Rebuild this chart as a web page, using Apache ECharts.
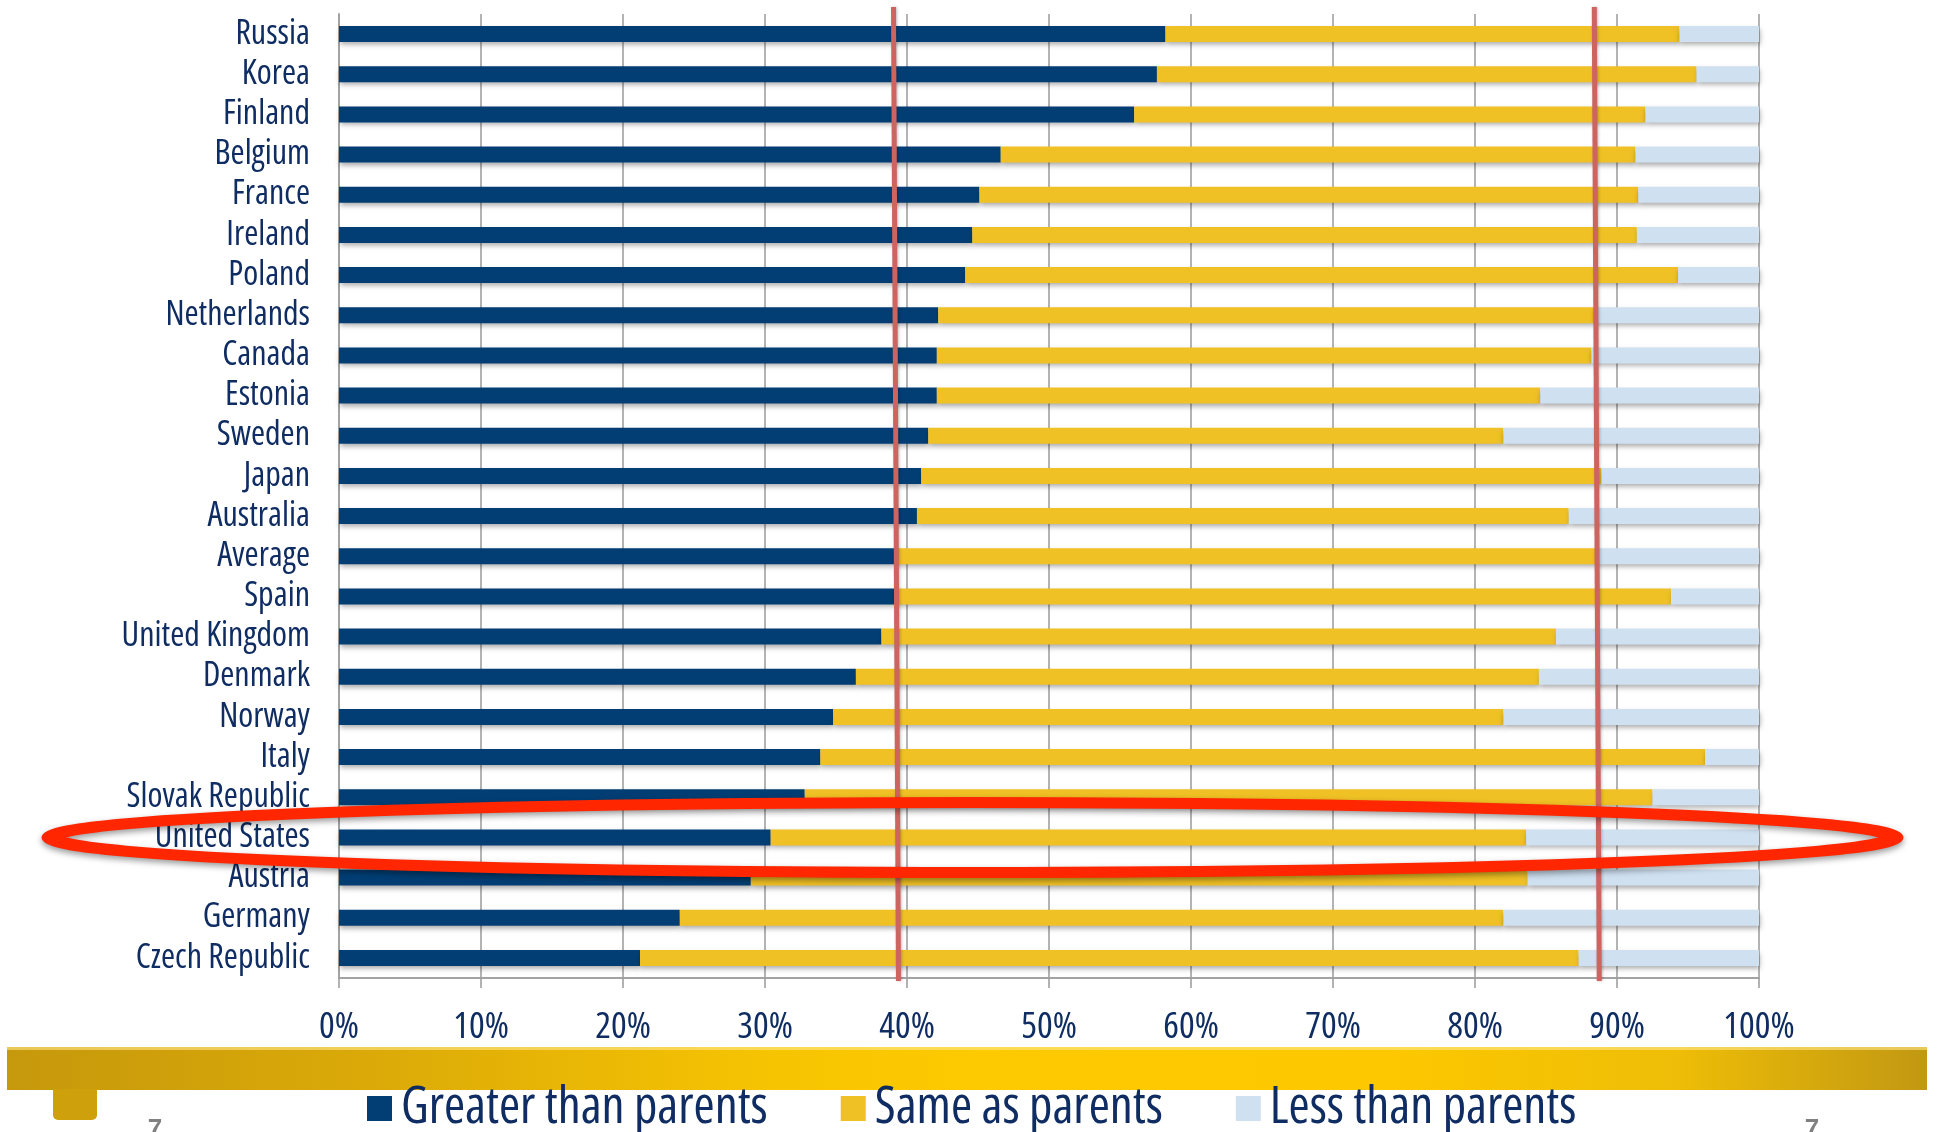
<!DOCTYPE html>
<html><head><meta charset="utf-8">
<script src="https://cdn.jsdelivr.net/npm/echarts@6/dist/echarts.min.js"></script>
<style>html,body{margin:0;padding:0;background:#fff}#c{width:1937px;height:1132px}</style>
</head><body><div id="c"></div>
<script>
const categories = ['Russia','Korea','Finland','Belgium','France','Ireland','Poland','Netherlands','Canada','Estonia','Sweden','Japan','Australia','Average','Spain','United Kingdom','Denmark','Norway','Italy','Slovak Republic','United States','Austria','Germany','Czech Republic'];
const greaterThanParents = [58.2,57.6,56.0,46.6,45.1,44.6,44.1,42.2,42.1,42.1,41.5,41.0,40.7,39.1,39.1,38.2,36.4,34.8,33.9,32.8,30.4,29.0,24.0,21.2];
const sameAsParents      = [36.2,38.0,36.0,44.7,46.4,46.8,50.2,46.2,46.1,42.5,40.5,47.9,45.9,49.5,54.7,47.5,48.1,47.2,62.3,59.7,53.2,54.7,58.0,66.1];
const lessThanParents    = [5.6,4.4,8.0,8.7,8.5,8.6,5.7,11.6,11.8,15.4,18.0,11.1,13.4,11.4,6.2,14.3,15.5,18.0,3.8,7.5,16.4,16.3,18.0,12.7];
const seriesNames = ['Greater than parents','Same as parents','Less than parents'];
const xMin = 0, xMax = 100, xStep = 10;
// hand-drawn average marker lines (value at top, value at bottom)
const averageMarkers = [[39.05,39.4],[88.4,88.75]];
const highlighted = 'United States';
const pageNumber = '7';

const FONT = "'Open Sans','Liberation Sans',sans-serif";
const STRETCH = 'condensed';
const NAVY = '#0f2d62';
const colors = ['#023e74','#f0c125','#cfe0f1'];
const seriesData = [greaterThanParents, sameAsParents, lessThanParents];

const chart = echarts.init(document.getElementById('c'), null, {renderer:'canvas'});
const option = {
  animation:false,
  grid:{left:339,right:178,top:14,bottom:154},
  xAxis:{type:'value',min:xMin,max:xMax,interval:xStep,
    axisLabel:{formatter:'{value}%',fontFamily:FONT,fontWeight:STRETCH,fontSize:37,color:NAVY,margin:31},
    axisLine:{show:true,lineStyle:{color:'#a3a3a3',width:2}},
    axisTick:{show:true,length:10,lineStyle:{color:'#999',width:1.5}},
    splitLine:{show:true,lineStyle:{color:'#9a9a9a',width:1.5}}},
  yAxis:{type:'category',data:categories,inverse:true,
    axisLabel:{interval:0,fontFamily:FONT,fontWeight:STRETCH,fontSize:34,color:NAVY,margin:29,padding:[5,0,0,0]},
    axisLine:{lineStyle:{color:'#a3a3a3',width:2}},
    axisTick:{interval:0,length:10,lineStyle:{color:'#999',width:1.5}}},
  legend:{left:362,top:1078,itemWidth:25,itemHeight:25,itemGap:73,icon:'rect',
    textStyle:{fontFamily:FONT,fontWeight:STRETCH,fontSize:51,color:NAVY,padding:[0,0,0,4]},
    data:seriesNames},
  series: seriesNames.map((n,i)=>({name:n,type:'bar',stack:'total',barWidth:16,data:seriesData[i],
    itemStyle:{color:colors[i],shadowColor:'rgba(0,0,0,0.33)',shadowBlur:5,shadowOffsetY:3,shadowOffsetX:1}}))
};
chart.setOption(option);

const gTop = 7, gBottom = 981;
const lines = averageMarkers.map(m=>({type:'line',z:50,
  shape:{x1:chart.convertToPixel({xAxisIndex:0},m[0]),y1:gTop,x2:chart.convertToPixel({xAxisIndex:0},m[1]),y2:gBottom},
  style:{stroke:'#cd6460',lineWidth:5,shadowColor:'rgba(0,0,0,0.25)',shadowBlur:3,shadowOffsetX:1}}));
const cy = chart.convertToPixel({yAxisIndex:0}, highlighted);
chart.setOption({graphic:[
  {type:'rect',z:-5,shape:{x:7,y:1047,width:1920,height:43},
   style:{fill:new echarts.graphic.LinearGradient(0,0,1,0,[
     {offset:0,color:'#c6980c'},{offset:0.2,color:'#dcab08'},{offset:0.4,color:'#f7c402'},{offset:0.5,color:'#fdc900'},
     {offset:0.72,color:'#fdc800'},{offset:0.87,color:'#eebd07'},{offset:1,color:'#c29812'}])}},
  {type:'rect',z:-4,shape:{x:7,y:1047,width:1920,height:3},style:{fill:'rgba(255,232,140,0.6)'}},
  {type:'rect',z:-4,shape:{x:53,y:1089,width:44,height:31,r:[0,0,5,5]},style:{fill:'#cda00c'}},
  {type:'text',z:-4,x:155,y:1117,style:{text:pageNumber,fill:'#808080',font:"bold 26px 'Liberation Sans'",align:'center',verticalAlign:'top'}},
  {type:'text',z:-4,x:1812,y:1117,style:{text:pageNumber,fill:'#808080',font:"bold 26px 'Liberation Sans'",align:'center',verticalAlign:'top'}},
  ...lines,
  {type:'ellipse',z:100,x:972.5,y:cy,scaleX:2,scaleY:1,shape:{cx:0,cy:0,rx:460,ry:35},
   style:{fill:'none',stroke:'#ff2600',lineWidth:11,shadowColor:'rgba(0,0,0,0.4)',shadowBlur:6,shadowOffsetY:3}}
]});
</script></body></html>
